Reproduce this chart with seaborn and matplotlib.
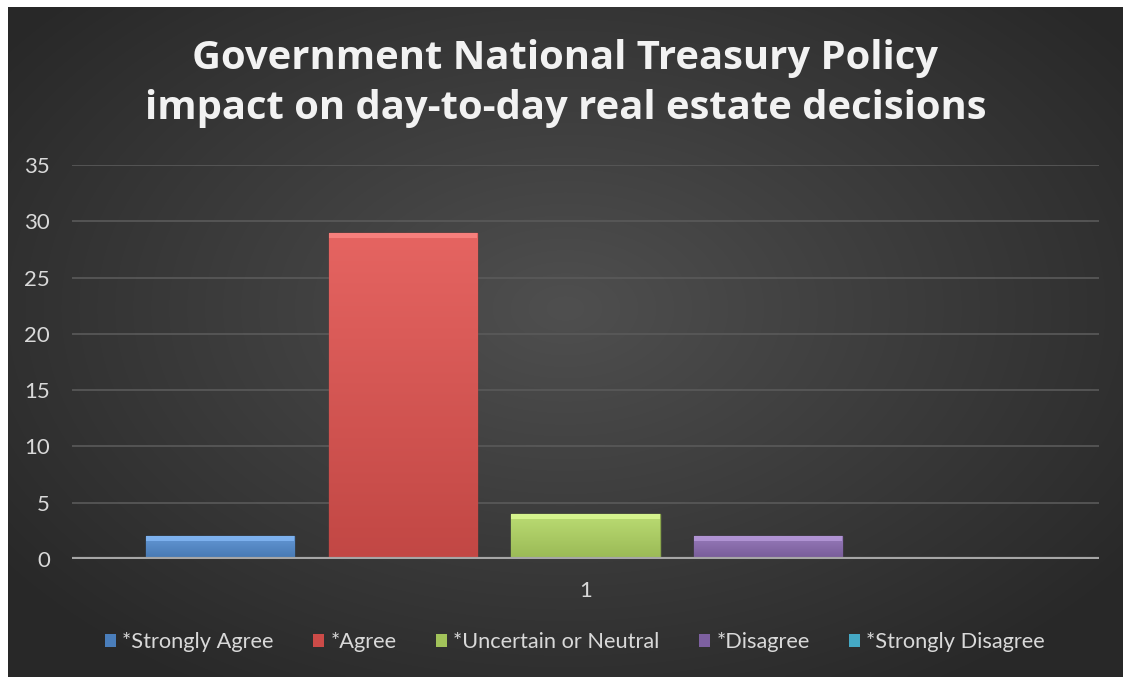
import numpy as np
import pandas as pd
import matplotlib
matplotlib.use("Agg")
import matplotlib.pyplot as plt
import seaborn as sns
from matplotlib.patches import Patch

categories = ["*Strongly Agree", "*Agree", "*Uncertain or Neutral", "*Disagree", "*Strongly Disagree"]
values = [2, 29, 4, 2, 0]
x_label = ["1"] * 5
colors = ["#4a7ebb", "#cc4b48", "#a2c35a", "#7d60a0", "#45a9c5"]
yticks = [0, 5, 10, 15, 20, 25, 30, 35]

df = pd.DataFrame({"x": x_label, "response": categories, "count": values})

sns.set_theme(style="dark")
plt.rcParams["font.family"] = ["Lato", "DejaVu Sans"]

W, H = 1123, 677
fig = plt.figure(figsize=(W / 100, H / 100), dpi=100)
fig.patch.set_facecolor("white")

# background radial gradient panel (leaves a thin white margin on left/top)
bg = fig.add_axes([8 / W, 0, 1 - 8 / W, 1 - 7 / H])
yy, xx = np.mgrid[0:1:300j, 0:1:500j]
r = np.sqrt(((xx - 0.5) / 0.7) ** 2 + ((yy - 0.45) / 0.75) ** 2)
g = np.clip(0.31 - 0.17 * r, 0.16, 0.31)
img = np.dstack([g, g, g])
bg.imshow(img, aspect="auto", extent=[0, 1, 0, 1], interpolation="bilinear")
bg.set_axis_off()

ax = fig.add_axes([72 / W, 1 - 559 / H, (1099 - 72) / W, (559 - 165) / H])
ax.set_facecolor("none")

sns.barplot(data=df, x="x", y="count", hue="response", hue_order=categories,
            palette=colors, width=0.89, gap=0.19, ax=ax, legend=False,
            saturation=1, zorder=3)

ax.set_ylim(0, 35)
ax.set_xlim(-0.5, 0.5)
ax.set_yticks(yticks)
ax.set_yticklabels([str(t) for t in yticks])
ax.yaxis.grid(True, color="#5a5a5a", linewidth=1.2, zorder=0)
ax.xaxis.grid(False)
for s in ax.spines.values():
    s.set_visible(False)
ax.axhline(0, color="#a6a6a6", linewidth=3, zorder=4)
ax.tick_params(axis="both", colors="#d9d9d9", labelsize=16, length=0)
ax.tick_params(axis="y", pad=16)
ax.tick_params(axis="x", pad=16)
ax.set_xlabel("")
ax.set_ylabel("")

# gradient shading on bars
for p, c in zip(ax.patches, colors):
    x0, y0 = p.get_x(), p.get_y()
    w, h = p.get_width(), p.get_height()
    if h <= 0:
        continue
    p.set_edgecolor(matplotlib.colors.to_hex(np.array(matplotlib.colors.to_rgb(c)) * 0.85))
    p.set_linewidth(1)
    base = np.array(matplotlib.colors.to_rgb(c))
    t = np.linspace(0, 1, 100)[:, None]
    light = np.clip(base + 0.10, 0, 1)
    dark = base * 0.95
    grad = light[None, :] * (1 - t) + dark[None, :] * t
    grad = grad[:, None, :].repeat(2, axis=1)
    im = ax.imshow(grad, extent=[x0, x0 + w, y0, y0 + h], aspect="auto",
                   origin="upper", zorder=3, interpolation="bilinear")
    im.set_clip_path(p)
    # bevel highlight at top
    hb = min(0.45, h * 0.2)
    ax.add_patch(plt.Rectangle((x0, y0 + h - hb), w, hb,
                               facecolor=np.clip(base + 0.25, 0, 1), alpha=0.7,
                               edgecolor="none", zorder=3.5))
ax.set_xlim(-0.5, 0.5)
ax.set_ylim(0, 35)

title_font = ["Open Sans", "DejaVu Sans"]
fig.text(0.5 + 4 / W, 1 - 58 / H, "Government National Treasury Policy",
         ha="center", va="center", color="#f2f2f2", fontsize=28.8, fontweight="bold",
         family=title_font)
fig.text(0.5 + 4 / W, 1 - 108 / H, "impact on day-to-day real estate decisions",
         ha="center", va="center", color="#f2f2f2", fontsize=28.8, fontweight="bold",
         family=title_font)

handles = [Patch(facecolor=c, edgecolor="none", label=l) for c, l in zip(colors, categories)]
fig.legend(handles=handles, loc="center", bbox_to_anchor=(0.512, 1 - 642 / H), ncol=5,
           frameon=False, fontsize=15.7, labelcolor="#d9d9d9", handlelength=0.5,
           handleheight=0.55, handletextpad=0.3, columnspacing=1.8)

fig.savefig("out.png", dpi=100)
